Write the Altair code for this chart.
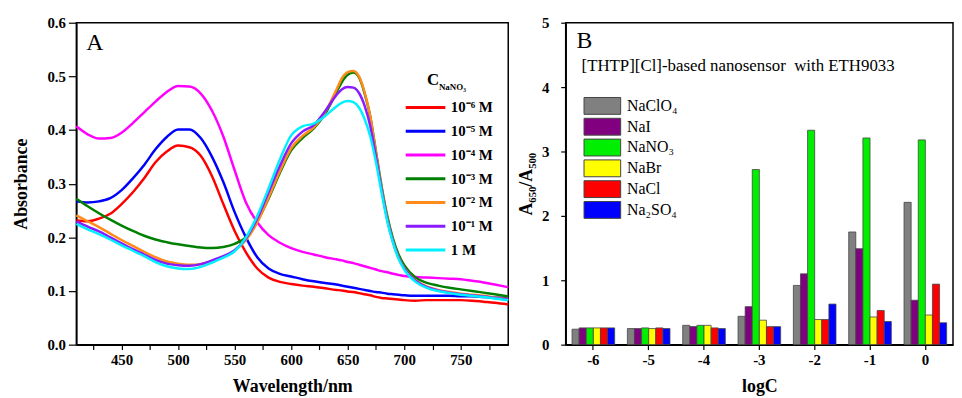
import altair as alt
import pandas as pd

# ---------------- Panel A data ----------------
wavelengths = [410, 420, 430, 440, 450, 460, 470, 480, 490, 500, 510, 520, 530, 540, 550,
               560, 570, 580, 590, 600, 610, 620, 630, 640, 645, 650, 655, 660, 665, 670,
               675, 680, 685, 690, 695, 700, 710, 720, 730, 740, 750, 760, 770, 780, 792]

conc_labels = ["10⁻⁶ M", "10⁻⁵ M", "10⁻⁴ M", "10⁻³ M", "10⁻² M", "10⁻¹ M", "1 M"]
line_colors = ["#ff0000", "#0000ff", "#ff00ff", "#008000", "#ff8c1a", "#8a1aff", "#00f0ff"]

abs_1e6 = [0.232, 0.230, 0.235, 0.244, 0.262, 0.284, 0.310, 0.340, 0.360, 0.371, 0.368, 0.352, 0.314, 0.262, 0.212,
           0.172, 0.142, 0.125, 0.117, 0.113, 0.110, 0.108, 0.105, 0.102, 0.101, 0.099, 0.098, 0.096, 0.094, 0.092,
           0.089, 0.087, 0.086, 0.085, 0.084, 0.083, 0.082, 0.083, 0.083, 0.083, 0.083, 0.082, 0.080, 0.078, 0.075]
abs_1e5 = [0.267, 0.265, 0.267, 0.273, 0.288, 0.310, 0.335, 0.364, 0.387, 0.401, 0.401, 0.385, 0.350, 0.303, 0.247,
           0.200, 0.163, 0.142, 0.132, 0.127, 0.122, 0.118, 0.115, 0.112, 0.110, 0.108, 0.106, 0.104, 0.102, 0.100,
           0.098, 0.097, 0.095, 0.094, 0.093, 0.092, 0.091, 0.091, 0.091, 0.091, 0.090, 0.090, 0.089, 0.088, 0.087]
abs_1e4 = [0.407, 0.392, 0.384, 0.385, 0.395, 0.413, 0.433, 0.453, 0.471, 0.482, 0.481, 0.468, 0.436, 0.388, 0.325,
           0.265, 0.228, 0.204, 0.190, 0.180, 0.173, 0.168, 0.163, 0.159, 0.157, 0.154, 0.152, 0.149, 0.146, 0.143,
           0.140, 0.137, 0.135, 0.132, 0.130, 0.128, 0.126, 0.125, 0.124, 0.123, 0.122, 0.119, 0.116, 0.112, 0.107]
abs_1e3 = [0.272, 0.258, 0.245, 0.233, 0.222, 0.212, 0.203, 0.196, 0.191, 0.187, 0.184, 0.181, 0.180, 0.182, 0.188,
           0.200, 0.230, 0.272, 0.320, 0.362, 0.385, 0.403, 0.430, 0.470, 0.490, 0.503, 0.507, 0.498, 0.468, 0.425,
           0.360, 0.295, 0.240, 0.198, 0.168, 0.148, 0.125, 0.115, 0.110, 0.106, 0.103, 0.100, 0.097, 0.094, 0.090]
abs_1e2 = [0.241, 0.230, 0.219, 0.207, 0.195, 0.184, 0.173, 0.163, 0.155, 0.151, 0.149, 0.150, 0.155, 0.163, 0.175,
           0.195, 0.228, 0.274, 0.323, 0.366, 0.389, 0.405, 0.433, 0.475, 0.497, 0.508, 0.510, 0.500, 0.470, 0.425,
           0.358, 0.290, 0.235, 0.193, 0.163, 0.143, 0.120, 0.108, 0.102, 0.098, 0.095, 0.093, 0.091, 0.088, 0.085]
abs_1e1 = [0.230, 0.220, 0.211, 0.200, 0.189, 0.178, 0.168, 0.158, 0.151, 0.148, 0.147, 0.150, 0.157, 0.165, 0.176,
           0.198, 0.235, 0.284, 0.333, 0.375, 0.397, 0.409, 0.435, 0.465, 0.476, 0.480, 0.479, 0.469, 0.445, 0.407,
           0.350, 0.288, 0.233, 0.192, 0.162, 0.142, 0.119, 0.107, 0.101, 0.097, 0.094, 0.092, 0.090, 0.087, 0.084]
abs_1 = [0.225, 0.215, 0.206, 0.196, 0.185, 0.175, 0.165, 0.154, 0.146, 0.142, 0.141, 0.145, 0.153, 0.162, 0.174,
         0.200, 0.240, 0.291, 0.345, 0.390, 0.407, 0.412, 0.426, 0.444, 0.451, 0.454, 0.452, 0.442, 0.420, 0.388,
         0.340, 0.283, 0.230, 0.190, 0.160, 0.140, 0.117, 0.106, 0.100, 0.096, 0.093, 0.091, 0.089, 0.086, 0.083]

series_values = [abs_1e6, abs_1e5, abs_1e4, abs_1e3, abs_1e2, abs_1e1, abs_1]

# ---------------- Panel B data ----------------
logc = ["-6", "-5", "-4", "-3", "-2", "-1", "0"]
salts = ["NaClO₄", "NaI", "NaNO₃", "NaBr", "NaCl", "Na₂SO₄"]
bar_colors = ["#808080", "#800080", "#00ee00", "#ffff00", "#ff0000", "#0000ff"]
ratio_NaClO4 = [0.24, 0.25, 0.30, 0.44, 0.92, 1.75, 2.21]
ratio_NaI = [0.26, 0.25, 0.28, 0.59, 1.10, 1.49, 0.69]
ratio_NaNO3 = [0.26, 0.26, 0.30, 2.72, 3.33, 3.21, 3.18]
ratio_NaBr = [0.26, 0.25, 0.30, 0.38, 0.39, 0.43, 0.46]
ratio_NaCl = [0.26, 0.26, 0.26, 0.28, 0.39, 0.53, 0.94]
ratio_Na2SO4 = [0.26, 0.25, 0.25, 0.28, 0.63, 0.36, 0.34]
ratio_values = [ratio_NaClO4, ratio_NaI, ratio_NaNO3, ratio_NaBr, ratio_NaCl, ratio_Na2SO4]

SERIF = "Liberation Serif"

rows = []
for lab, vals in zip(conc_labels, series_values):
    for w, a in zip(wavelengths, vals):
        rows.append({"wl": w, "A": a, "conc": lab})
df_a = pd.DataFrame(rows)

rows = []
for s, vals in zip(salts, ratio_values):
    for c, v in zip(logc, vals):
        rows.append({"logC": c, "salt": s, "ratio": v})
df_b = pd.DataFrame(rows)

# ---------------- Panel A ----------------
lines = alt.Chart(df_a).mark_line(interpolate="monotone", strokeWidth=2.5).encode(
    x=alt.X("wl:Q", scale=alt.Scale(domain=[410, 792], nice=False, zero=False),
            axis=alt.Axis(title="Wavelength/nm", values=list(range(425, 776, 25)),
                          labelExpr="datum.value % 50 == 0 ? datum.label : ''",
                          titlePadding=10)),
    y=alt.Y("A:Q", scale=alt.Scale(domain=[0, 0.6], nice=False),
            axis=alt.Axis(title="Absorbance", values=[0, 0.1, 0.2, 0.3, 0.4, 0.5, 0.6],
                          format=".1f", tickSize=8, labelPadding=3, titlePadding=17)),
    color=alt.Color("conc:N", sort=conc_labels,
                    scale=alt.Scale(domain=conc_labels, range=line_colors),
                    legend=alt.Legend(orient="none", legendX=341, legendY=74, title=None,
                                      symbolType="M-2,0L2,0", symbolSize=400,
                                      symbolStrokeWidth=3, symbolFillColor="transparent",
                                      labelFont=SERIF, labelFontSize=15, labelFontWeight="bold",
                                      labelColor="black", labelOffset=14, rowPadding=4, padding=0)),
    order=alt.Order("wl:Q"),
)

txt_a = pd.DataFrame({"t": ["A"]})
label_a = alt.Chart(txt_a).mark_text(font=SERIF, fontSize=24, align="left", baseline="alphabetic",
                                     color="black").encode(
    text="t:N", x=alt.value(10), y=alt.value(28))

leg_c = alt.Chart(pd.DataFrame({"t": ["C"]})).mark_text(
    font=SERIF, fontSize=17, fontWeight="bold", align="left", baseline="alphabetic",
    color="black").encode(text="t:N", x=alt.value(354), y=alt.value(63))
leg_sub = alt.Chart(pd.DataFrame({"t": ["NaNO₃"]})).mark_text(
    font=SERIF, fontSize=9, fontWeight="bold", align="left", baseline="alphabetic",
    color="black").encode(text="t:N", x=alt.value(366), y=alt.value(68))

left = alt.layer(lines, label_a, leg_c, leg_sub).properties(width=436, height=325)

# ---------------- Panel B ----------------
# legends of a concatenated chart are placed relative to the first panel's origin
RIGHT_SHIFT = 495

bars = alt.Chart(df_b).mark_bar(stroke="#444444", strokeWidth=0.8).encode(
    x=alt.X("logC:O", sort=logc,
            scale=alt.Scale(paddingInner=0.23, paddingOuter=0.115),
            axis=alt.Axis(title="logC", labelAngle=0, titlePadding=10)),
    xOffset=alt.XOffset("salt:N", sort=salts, scale=alt.Scale(paddingInner=0, paddingOuter=0)),
    y=alt.Y("ratio:Q", scale=alt.Scale(domain=[0, 5], nice=False),
            axis=alt.Axis(title="A₆₅₀/A₅₀₀", values=[0, 1, 2, 3, 4, 5],
                          labelPadding=12, titlePadding=6)),
    fill=alt.Fill("salt:N", sort=salts,
                  scale=alt.Scale(domain=salts, range=bar_colors),
                  legend=alt.Legend(orient="none", legendX=RIGHT_SHIFT + 26, legendY=74, title=None,
                                    symbolType="M-2,-0.92L2,-0.92L2,0.92L-2,0.92Z",
                                    symbolSize=342, symbolStrokeColor="#444444",
                                    symbolStrokeWidth=1, symbolOpacity=1,
                                    labelFont=SERIF, labelFontSize=16, labelColor="black",
                                    labelOffset=15, rowPadding=-1, padding=0)),
)

label_b = alt.Chart(pd.DataFrame({"t": ["B"]})).mark_text(
    font=SERIF, fontSize=24, align="left", baseline="alphabetic", color="black").encode(
    text="t:N", x=alt.value(11), y=alt.value(26))
note_b = alt.Chart(pd.DataFrame({"t": ["[THTP][Cl]-based nanosensor\u00a0 with ETH9033"]})).mark_text(
    font=SERIF, fontSize=17, align="left", baseline="middle", color="black").encode(
    text="t:N", x=alt.value(16), y=alt.value(44))

right = alt.layer(bars, label_b, note_b).properties(width=391, height=325)

chart = alt.hconcat(left, right, spacing=2).properties(
    padding={"left": 3, "top": 5, "right": 0, "bottom": 0},
    background="white",
).configure_view(
    stroke="black", strokeWidth=1.5
).configure_axis(
    labelFont=SERIF, labelFontSize=15, labelFontWeight="bold", labelColor="black",
    titleFont=SERIF, titleFontSize=18, titleFontWeight="bold", titleColor="black",
    domainColor="black", domainWidth=1.5, tickColor="black", tickWidth=1.2, tickSize=5,
    labelPadding=3, grid=False
)

chart.save("out.html", embed_options={"renderer": "svg", "actions": False})
